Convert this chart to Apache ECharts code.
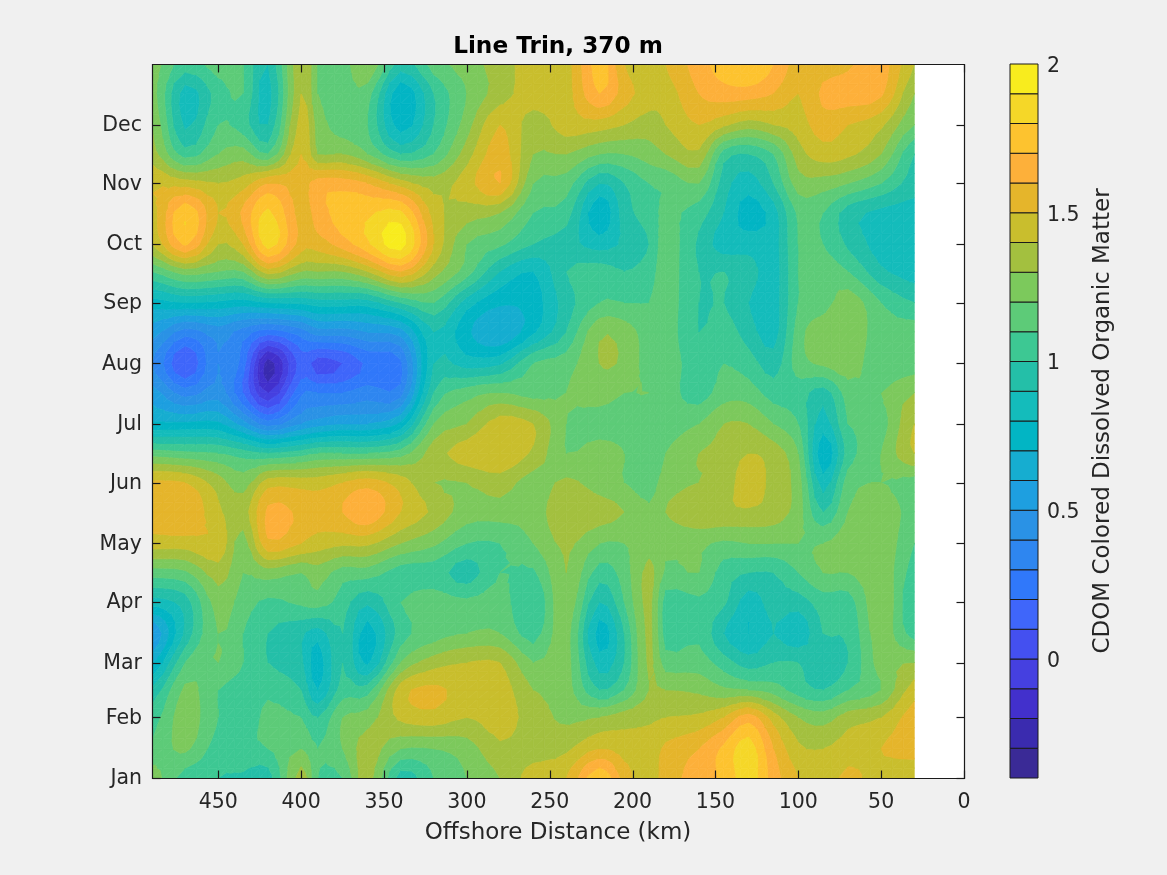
<!DOCTYPE html>
<html><head><meta charset="utf-8">
<style>html,body{margin:0;padding:0;background:#f0f0f0}#c{width:1167px;height:875px}</style>
<script src="https://cdn.jsdelivr.net/npm/echarts@6/dist/echarts.min.js"></script>
</head><body><div id="c"></div>
<script>
const distanceKm=[490,470,450,435,420,400,390,375,360,340,320,300,280,260,240,220,205,190,180,160,145,130,115,100,85,70,50,30];
const dayOfYear=[0,15,31,45,59,74,90,105,120,136,151,166,181,197,212,228,243,259,273,289,304,319,334,350,365];
const monthDays=[0,31,59,90,120,151,181,212,243,273,304,334];
const monthNames=['Jan','Feb','Mar','Apr','May','Jun','Jul','Aug','Sep','Oct','Nov','Dec'];
const xTicks=[0,50,100,150,200,250,300,350,400,450];
const barTicks=[0,0.5,1,1.5,2];
const levels=[-0.4,-0.3,-0.2,-0.1,0,0.1,0.2,0.3,0.4,0.5,0.6,0.7,0.8,0.9,1,1.1,1.2,1.3,1.4,1.5,1.6,1.7,1.8,1.9,2];
const bandColors=['#3A2A96','#3A2BAF','#4230CC','#4540E0','#4450F0','#3F66FA','#3078FA','#2E86F0','#2A92E5','#1E9FE0','#16ADD0','#02B5C4','#14BCBB','#24BFA8','#3DC893','#5DCB78','#7CC95C','#A3C03F','#C9BE2D','#E5B52B','#FDB03A','#FDC32F','#F5D728','#F8EC1E'];
const d000=[1.25,1.05,1.0,0.98,0.95,1.35,1.1,1.1,1.35,0.95,1.1,1.2,1.3,1.45,1.5,1.78,1.55,1.45,1.55,1.65,1.72,1.85,1.65,1.5,1.45,1.52,1.45,1.4];
const d015=[1.12,1.22,1.05,1.08,1.1,1.2,1.1,1.2,1.35,1.2,1.2,1.25,1.38,1.35,1.38,1.5,1.45,1.45,1.52,1.6,1.72,1.85,1.6,1.42,1.4,1.45,1.5,1.55];
const d031=[1.05,1.25,1.1,1.05,1.12,1.1,1.0,1.2,1.25,1.42,1.46,1.4,1.45,1.35,1.28,1.3,1.35,1.38,1.4,1.42,1.5,1.65,1.45,1.3,1.25,1.35,1.4,1.55];
const d045=[0.92,1.22,1.1,1.05,1.08,1.0,0.8,1.05,1.05,1.45,1.52,1.45,1.45,1.3,1.25,1.0,1.1,1.3,1.3,1.28,1.22,1.2,1.15,1.05,1.0,1.1,1.2,1.45];
const d059=[0.68,1.1,1.2,1.1,1.0,0.92,0.75,1.0,0.78,1.2,1.35,1.4,1.4,1.2,1.25,0.85,1.0,1.32,1.15,1.15,1.05,0.95,1.0,1.0,0.92,1.0,1.25,1.3];
const d074=[0.5,0.92,1.2,1.1,1.0,0.92,0.85,1.0,0.75,1.05,1.15,1.2,1.2,1.05,1.25,0.75,1.0,1.33,1.05,1.08,0.9,0.8,0.9,0.82,1.0,1.02,1.25,1.05];
const d090=[0.85,0.95,1.25,1.15,1.08,1.12,1.15,1.05,0.92,1.1,1.15,1.12,1.15,1.0,1.28,0.9,1.1,1.33,1.05,1.08,1.02,0.85,0.95,0.95,1.05,1.05,1.28,1.0];
const d105=[1.15,1.18,1.35,1.2,1.25,1.2,1.25,1.15,1.15,1.05,1.05,0.95,1.1,1.08,1.3,1.05,1.15,1.33,1.18,1.2,1.05,1.0,1.0,1.1,1.2,1.2,1.27,1.05];
const d120=[1.45,1.45,1.48,1.25,1.58,1.5,1.45,1.42,1.42,1.3,1.22,1.1,1.1,1.2,1.32,1.2,1.2,1.26,1.22,1.22,1.18,1.2,1.2,1.2,1.2,1.25,1.28,1.1];
const d136=[1.55,1.6,1.42,1.35,1.62,1.58,1.55,1.6,1.68,1.5,1.38,1.25,1.25,1.25,1.38,1.35,1.3,1.22,1.3,1.38,1.38,1.38,1.35,1.25,1.0,1.2,1.27,1.15];
const d151=[1.52,1.5,1.35,1.25,1.45,1.45,1.45,1.5,1.55,1.45,1.3,1.3,1.35,1.25,1.32,1.25,1.2,1.15,1.25,1.3,1.32,1.48,1.35,1.25,0.85,1.15,1.2,1.15];
const d166=[1.15,1.12,1.1,1.05,1.0,1.05,1.1,1.1,1.1,1.15,1.35,1.45,1.49,1.38,1.2,1.25,1.2,1.1,1.2,1.3,1.32,1.4,1.35,1.2,0.72,1.05,1.2,1.4];
const d181=[0.72,0.72,0.72,0.55,0.35,0.5,0.55,0.6,0.6,0.72,1.2,1.3,1.45,1.4,1.2,1.15,1.15,1.17,1.15,1.2,1.3,1.3,1.2,1.1,0.85,1.1,1.15,1.4];
const d197=[0.55,0.35,0.45,0.2,-0.1,0.28,0.3,0.3,0.35,0.35,1.0,1.15,1.2,1.15,1.2,1.25,1.2,1.2,1.15,1.05,1.15,1.15,1.05,1.05,0.95,1.15,1.2,1.3];
const d212=[0.4,0.1,0.4,0.25,-0.25,0.15,0.05,0.1,0.22,0.28,0.9,0.85,0.88,1.1,1.15,1.3,1.28,1.15,1.15,1.05,1.1,1.05,0.95,1.15,1.22,1.26,1.12,1.15];
const d228=[0.55,0.35,0.45,0.35,0.25,0.35,0.45,0.45,0.5,0.55,0.9,0.72,0.6,0.78,1.0,1.28,1.25,1.15,1.15,1.0,1.05,0.95,0.85,1.15,1.27,1.27,1.15,1.15];
const d243=[0.75,0.8,0.78,0.75,0.8,0.82,0.85,0.85,0.85,1.0,1.1,0.85,0.72,0.75,0.95,1.1,1.1,1.1,1.15,1.0,1.0,0.9,0.85,1.1,1.15,1.26,1.1,1.0];
const d259=[1.1,1.25,1.2,1.2,1.45,1.3,1.3,1.3,1.4,1.6,1.35,1.15,0.9,0.8,1.0,1.05,1.0,1.05,1.15,1.0,1.0,0.95,0.85,1.1,1.15,1.1,0.92,0.85];
const d273=[1.4,1.72,1.4,1.5,1.85,1.55,1.55,1.65,1.78,1.95,1.5,1.2,1.12,1.0,0.95,0.85,0.92,1.0,1.15,0.98,0.85,0.85,0.85,1.1,1.1,0.98,0.85,0.82];
const d289=[1.45,1.78,1.5,1.62,1.82,1.55,1.65,1.75,1.78,1.82,1.45,1.35,1.3,1.1,1.05,0.72,0.95,1.05,1.12,1.05,0.9,0.75,0.85,1.12,1.1,0.95,0.87,0.85];
const d304=[1.5,1.45,1.4,1.45,1.6,1.55,1.65,1.65,1.6,1.45,1.35,1.45,1.6,1.2,1.15,0.9,1.0,1.1,1.12,1.2,0.95,0.85,1.0,1.25,1.25,1.2,1.1,0.95];
const d319=[1.35,1.05,1.2,1.25,1.1,1.5,1.3,1.3,1.2,1.0,1.1,1.35,1.55,1.3,1.3,1.2,1.2,1.25,1.3,1.38,1.05,1.0,1.1,1.35,1.45,1.42,1.3,1.0];
const d334=[1.3,0.88,1.1,1.05,0.9,1.45,1.25,1.15,1.1,0.75,1.0,1.25,1.5,1.35,1.45,1.45,1.4,1.35,1.4,1.5,1.42,1.35,1.4,1.45,1.55,1.5,1.42,1.2];
const d350=[1.25,0.85,1.05,1.1,0.85,1.4,1.2,1.15,1.15,0.72,1.0,1.2,1.35,1.45,1.45,1.7,1.55,1.45,1.45,1.6,1.65,1.65,1.6,1.5,1.62,1.65,1.62,1.3];
const d365=[1.25,1.05,1.15,1.1,0.9,1.4,1.2,1.15,1.3,0.95,1.15,1.25,1.35,1.45,1.45,1.75,1.5,1.4,1.5,1.65,1.75,1.8,1.7,1.55,1.55,1.58,1.65,1.4];
const cdom=[d000,d015,d031,d045,d059,d074,d090,d105,d120,d136,d151,d166,d181,d197,d212,d228,d243,d259,d273,d289,d304,d319,d334,d350,d365];

const nx=distanceKm.length, ny=dayOfYear.length, SUB=3;
const cells=[];
for(let j=0;j<ny-1;j++)for(let i=0;i<nx-1;i++)cells.push([i,j]);

// Catmull-Rom surface through the grid values, used only to draw smooth contour edges
function cr(p0,p1,p2,p3,t){return 0.5*((2*p1)+(-p0+p2)*t+(2*p0-5*p1+4*p2-p3)*t*t+(-p0+3*p1-3*p2+p3)*t*t*t);}
const cl=(v,a,b)=>Math.max(a,Math.min(b,v));
function surf(i,s,j,t){
  const col=[];
  for(let jj=-1;jj<=2;jj++){
    const row=cdom[cl(j+jj,0,ny-1)];
    col.push(cr(row[cl(i-1,0,nx-1)],row[cl(i,0,nx-1)],row[cl(i+1,0,nx-1)],row[cl(i+2,0,nx-1)],s));
  }
  return cr(col[0],col[1],col[2],col[3],t);
}
function clipBy(poly,lim,keepAbove){
  const out=[];
  for(let k=0;k<poly.length;k++){
    const a=poly[k],b=poly[(k+1)%poly.length];
    const ina=keepAbove?a[2]>=lim:a[2]<=lim, inb=keepAbove?b[2]>=lim:b[2]<=lim;
    if(ina)out.push(a);
    if(ina!==inb){const t=(lim-a[2])/(b[2]-a[2]);out.push([a[0]+t*(b[0]-a[0]),a[1]+t*(b[1]-a[1]),lim]);}
  }
  return out;
}
function renderContour(params,api){
  const i=api.value(0),j=api.value(1);
  const x0=distanceKm[i],x1=distanceKm[i+1],y0=dayOfYear[j],y1=dayOfYear[j+1];
  const pts=[];
  for(let b=0;b<=SUB;b++){const r=[];for(let a=0;a<=SUB;a++){
    const s=a/SUB,t=b/SUB;
    const p=api.coord([x0+s*(x1-x0),y0+t*(y1-y0)]);
    r.push([p[0],p[1],cl(surf(i,s,j,t),-0.4,2)]);
  }pts.push(r);}
  const children=[];
  for(let b=0;b<SUB;b++)for(let a=0;a<SUB;a++){
    const A=pts[b][a],B=pts[b][a+1],C=pts[b+1][a+1],D=pts[b+1][a];
    [[A,B,C],[A,C,D]].forEach(tri=>{
      for(let k=0;k<bandColors.length;k++){
        let p=clipBy(tri,levels[k],true);
        if(p.length<3)continue;
        p=clipBy(p,levels[k+1],false);
        if(p.length<3)continue;
        children.push({type:'polygon',shape:{points:p.map(q=>[q[0],q[1]])},silent:true,
          style:{fill:bandColors[k],stroke:bandColors[k],lineWidth:0.7}});
      }
    });
  }
  return {type:'group',children};
}
function renderBar(params,api){
  const k=api.value(0);
  const p0=api.coord([0,levels[k+1]]),p1=api.coord([1,levels[k]]);
  return {type:'rect',shape:{x:p0[0],y:p0[1],width:p1[0]-p0[0],height:p1[1]-p0[1]},
    style:{fill:bandColors[k],stroke:'#1a1a1a',lineWidth:1}};
}
const txt='#262626', font='"DejaVu Sans"', fs=20.5, ns=23, TICK=8;
// Axis ticks and box, drawn above the filled contours on all four sides.
function renderFrame(params,api){
  const g=params.coordSys, L=Math.round(g.x)+0.5, T=Math.round(g.y)+0.5, R=Math.round(g.x+g.width)+0.5, B=Math.round(g.y+g.height)+0.5;
  const st={stroke:'#1a1a1a',lineWidth:1.2,fill:null};
  const seg=(a,b,c,d)=>({type:'line',shape:{x1:a,y1:b,x2:c,y2:d},style:st,silent:true,z2:100});
  const kids=[{type:'rect',shape:{x:L,y:T,width:R-L,height:B-T},style:st,silent:true,z2:100}];
  xTicks.forEach(v=>{const x=Math.round(api.coord([v,0])[0])+0.5;kids.push(seg(x,B,x,B-TICK),seg(x,T,x,T+TICK));});
  monthDays.forEach(v=>{const y=Math.round(api.coord([0,v])[1])+0.5;kids.push(seg(L,y,L+TICK,y),seg(R,y,R-TICK,y));});
  return {type:'group',children:kids};
}
const chart=echarts.init(document.getElementById('c'),null,{renderer:'canvas'});
const noLine={show:false,onZero:false};
const barLabelRich={v:{fontFamily:font,fontSize:fs,color:txt,padding:[5,0,0,0]}};
const monthLabelRich={v:{fontFamily:font,fontSize:fs,color:txt,padding:[2,0,0,0]}};
chart.setOption({
  animation:false,backgroundColor:'#f0f0f0',
  title:{text:'Line Trin, 370 m',left:553,top:30,textAlign:'center',textStyle:{fontFamily:font,fontSize:23.2,fontWeight:'bold',color:'#000'}},
  grid:[
    {left:152,top:64,width:812,height:714,show:true,backgroundColor:'#fff',borderWidth:0},
    {left:1010,top:64,width:28,height:714}
  ],
  xAxis:[
    {gridIndex:0,type:'value',inverse:true,min:0,max:490,position:'bottom',name:'Offshore Distance (km)',nameLocation:'middle',nameGap:44,
     nameTextStyle:{fontFamily:font,fontSize:ns,color:txt},axisLine:noLine,splitLine:{show:false},axisTick:{show:false},
     axisLabel:{fontFamily:font,fontSize:fs,color:txt,margin:14,customValues:xTicks,hideOverlap:false}},
    {gridIndex:1,type:'value',min:0,max:1,show:false}
  ],
  yAxis:[
    {gridIndex:0,type:'value',min:0,max:365,position:'left',axisLine:noLine,splitLine:{show:false},axisTick:{show:false},
     axisLabel:{margin:10,customValues:monthDays,hideOverlap:false,rich:monthLabelRich,
       formatter:v=>'{v|'+monthNames[monthDays.indexOf(v)]+'}'}},
    {gridIndex:1,type:'value',min:-0.4,max:2,position:'right',name:'CDOM Colored Dissolved Organic Matter',nameLocation:'middle',nameRotate:90,nameGap:54,
     nameTextStyle:{fontFamily:font,fontSize:ns,color:txt},axisLine:{show:false},axisTick:{show:false},splitLine:{show:false},
     axisLabel:{margin:9,customValues:barTicks,hideOverlap:false,rich:barLabelRich,formatter:v=>'{v|'+v+'}'}}
  ],
  series:[
    {type:'custom',xAxisIndex:0,yAxisIndex:0,clip:true,silent:true,data:cells,renderItem:renderContour,z:1},
    {type:'custom',xAxisIndex:1,yAxisIndex:1,silent:true,data:bandColors.map((c,k)=>[k]),renderItem:renderBar},
    {type:'custom',xAxisIndex:0,yAxisIndex:0,clip:false,silent:true,zlevel:3,z:50,data:[[0]],renderItem:renderFrame}
  ]
});
</script></body></html>
